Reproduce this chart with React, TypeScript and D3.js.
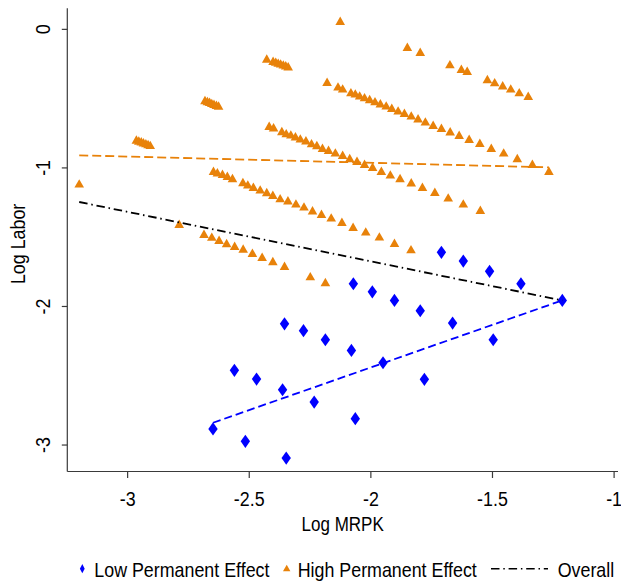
import React from "react";
import * as d3 from "d3";

// ---------- data ----------
const lowX = [
  -2.355, -2.277, -2.187, -2.561, -2.47, -2.363, -2.233, -2.649, -2.516, -2.348,
  -1.71, -1.62, -1.512, -1.383, -1.213, -2.072, -1.994, -1.903, -1.797, -1.664,
  -1.497, -2.08, -1.95, -1.78, -2.064,
];
const lowY = [
  -2.125, -2.175, -2.24, -2.461, -2.524, -2.601, -2.69, -2.884, -2.973, -3.094,
  -1.609, -1.672, -1.746, -1.836, -1.956, -1.836, -1.894, -1.956, -2.031, -2.12,
  -2.24, -2.317, -2.406, -2.526, -2.81,
];

const highX = [
  // singles
  -2.126, -3.199,
  // cluster 1
  -2.964, -2.954, -2.944, -2.935, -2.925, -2.916, -2.907,
  // cluster 2
  -2.682, -2.672, -2.663, -2.654, -2.645, -2.635, -2.626,
  // cluster 3
  -2.428, -2.402, -2.391, -2.381, -2.371, -2.36, -2.35, -2.34,
  // top row
  -1.85, -1.797, -1.675, -1.628, -1.604, -1.521, -1.491, -1.458, -1.425, -1.39, -1.353,
  // row A
  -2.18, -2.135, -2.116, -2.082, -2.064, -2.046, -2.026, -2.005, -1.983, -1.961,
  -1.937, -1.914, -1.888, -1.862, -1.834, -1.806, -1.776, -1.744, -1.71, -1.674,
  -1.637, -1.596, -1.552, -1.505, -1.454, -1.398, -1.336, -1.268,
  // row B
  -2.418, -2.4, -2.366, -2.348, -2.329, -2.31, -2.29, -2.267, -2.244, -2.222,
  -2.199, -2.174, -2.146, -2.116, -2.087, -2.057, -2.026, -1.993, -1.957, -1.92,
  -1.88, -1.834, -1.788, -1.737, -1.682, -1.62, -1.55,
  // row C
  -2.647, -2.631, -2.61, -2.59, -2.569, -2.526, -2.506, -2.483, -2.455, -2.428,
  -2.403, -2.373, -2.341, -2.308, -2.275, -2.24, -2.203, -2.163, -2.119, -2.073,
  -2.021, -1.965, -1.903, -1.835,
  // row D
  -2.788, -2.686, -2.654, -2.624, -2.593, -2.56, -2.525, -2.487, -2.447, -2.403,
  -2.355, -2.249, -2.187,
];
const highY = [
  0.055, -1.119,
  -0.802, -0.809, -0.815, -0.822, -0.828, -0.835, -0.841,
  -0.517, -0.524, -0.53, -0.538, -0.544, -0.551, -0.557,
  -0.218, -0.234, -0.24, -0.247, -0.253, -0.26, -0.266, -0.273,
  -0.133, -0.169, -0.258, -0.292, -0.306, -0.366, -0.388, -0.411, -0.433, -0.46, -0.486,
  -0.385, -0.419, -0.433, -0.46, -0.469, -0.484, -0.496, -0.51, -0.525, -0.541,
  -0.556, -0.573, -0.592, -0.609, -0.628, -0.649, -0.671, -0.696, -0.717, -0.743,
  -0.768, -0.797, -0.826, -0.862, -0.895, -0.936, -0.977, -1.028,
  -0.703, -0.714, -0.741, -0.756, -0.765, -0.779, -0.794, -0.808, -0.828, -0.842,
  -0.862, -0.876, -0.895, -0.912, -0.936, -0.955, -0.977, -0.999, -1.028, -1.054,
  -1.08, -1.111, -1.143, -1.179, -1.22, -1.263, -1.309,
  -1.028, -1.039, -1.049, -1.064, -1.08, -1.109, -1.126, -1.143, -1.162, -1.181,
  -1.201, -1.225, -1.241, -1.263, -1.285, -1.313, -1.338, -1.364, -1.396, -1.432,
  -1.465, -1.501, -1.547, -1.593,
  -1.41, -1.482, -1.503, -1.526, -1.549, -1.569, -1.589, -1.619, -1.648, -1.679,
  -1.713, -1.788, -1.831,
];

// fitted lines (endpoints)
const lowFitX = [-2.649, -1.213];
const lowFitY = [-2.839, -1.956];
const highFitX = [-3.199, -1.268];
const highFitY = [-0.909, -0.996];
const allFitX = [-3.199, -1.213];
const allFitY = [-1.246, -1.956];

const xTicks = [-3, -2.5, -2, -1.5, -1];
const xTickLabels = ["-3", "-2.5", "-2", "-1.5", "-1"];
const yTicks = [0, -1, -2, -3];
const yTickLabels = ["0", "-1", "-2", "-3"];
const legendLabels = ["Low Permanent Effect", "High Permanent Effect", "Overall"];

// ---------- style ----------
const W = 621;
const H = 586;
const BLUE = "#0000ff";
const ORANGE = "#e8820a";
const FONT = "'Liberation Sans', Arial, Helvetica, sans-serif";
const SX = 0.85;

const x = d3.scaleLinear().domain([-3.248, -0.984]).range([67.3, 618]);
const y = d3.scaleLinear().domain([-3.191, 0.152]).range([471.5, 8.3]);

const diamond = "M0,-6.6L4.7,0L0,6.6L-4.7,0Z";
const triangle = "M0,-5.2L4.8,3.2L-4.8,3.2Z";
const legDiamond = "M0,-4.6L2.4,0L0,4.6L-2.4,0Z";
const legTriangle = "M0,-3.9L3.7,2.5L-3.7,2.5Z";

const line = d3
  .line<[number, number]>()
  .x((d) => x(d[0]))
  .y((d) => y(d[1]));

const zip = (a: number[], b: number[]) => a.map((v, i) => [v, b[i]] as [number, number]);

function T({
  x: tx,
  y: ty,
  size,
  anchor = "start",
  rotate = 0,
  children,
}: {
  x: number;
  y: number;
  size: number;
  anchor?: string;
  rotate?: number;
  children: React.ReactNode;
}) {
  return (
    <text
      transform={`translate(${tx},${ty}) rotate(${rotate}) scale(${SX},1)`}
      fontSize={size}
      fontFamily={FONT}
      textAnchor={anchor}
      fill="#000"
    >
      {children}
    </text>
  );
}

export default function App() {
  const axisColor = "#3a3a3a";
  const x0 = x.range()[0];
  const x1 = x.range()[1];
  const yTop = y.range()[1];
  const yBot = y.range()[0];
  const plotCx = (x0 + x1) / 2;
  const plotCy = (yTop + yBot) / 2 + 4;
  const legY = 568.7;
  const legBase = 577.3;

  return (
    <svg
      width={W}
      height={H}
      viewBox={`0 0 ${W} ${H}`}
      style={{ position: "absolute", left: 0, top: 0, background: "#fff" }}
    >
      <rect x={0} y={0} width={W} height={H} fill="#fff" />

      {/* axes */}
      <line x1={x0} x2={x0} y1={yTop} y2={yBot} stroke={axisColor} strokeWidth={1.2} />
      <line x1={x0} x2={x1} y1={yBot} y2={yBot} stroke={axisColor} strokeWidth={1.2} />
      {yTicks.map((t, i) => (
        <g key={"yt" + i}>
          <line x1={x0 - 5.5} x2={x0} y1={y(t)} y2={y(t)} stroke={axisColor} strokeWidth={1.2} />
          <T x={49.5} y={y(t)} size={21} anchor="middle" rotate={-90}>
            {yTickLabels[i]}
          </T>
        </g>
      ))}
      {xTicks.map((t, i) => (
        <g key={"xt" + i}>
          <line x1={x(t)} x2={x(t)} y1={yBot} y2={yBot + 6.5} stroke={axisColor} strokeWidth={1.2} />
          <T x={x(t)} y={506} size={21} anchor="middle">
            {xTickLabels[i]}
          </T>
        </g>
      ))}
      <T x={plotCx} y={531} size={20} anchor="middle">
        Log MRPK
      </T>
      <T x={25} y={plotCy} size={21} anchor="middle" rotate={-90}>
        Log Labor
      </T>

      {/* points */}
      {lowX.map((v, i) => (
        <path key={"l" + i} d={diamond} transform={`translate(${x(v)},${y(lowY[i])})`} fill={BLUE} />
      ))}
      {highX.map((v, i) => (
        <path key={"h" + i} d={triangle} transform={`translate(${x(v)},${y(highY[i])})`} fill={ORANGE} />
      ))}

      {/* fit lines */}
      <path d={line(zip(lowFitX, lowFitY)) || ""} fill="none" stroke={BLUE} strokeWidth={1.8} strokeDasharray="8,4" />
      <path d={line(zip(highFitX, highFitY)) || ""} fill="none" stroke={ORANGE} strokeWidth={1.8} strokeDasharray="9,4" />
      <path
        d={line(zip(allFitX, allFitY)) || ""}
        fill="none"
        stroke="#000"
        strokeWidth={1.8}
        strokeDasharray="8.5,3.8,1.5,3.8"
      />

      {/* legend */}
      <path d={legDiamond} transform={`translate(82.3,${legY})`} fill={BLUE} />
      <T x={94.3} y={legBase} size={21}>
        {legendLabels[0]}
      </T>
      <path d={legTriangle} transform={`translate(286.7,${legY})`} fill={ORANGE} />
      <T x={297.7} y={legBase} size={21}>
        {legendLabels[1]}
      </T>
      <line
        x1={491}
        x2={548}
        y1={legY}
        y2={legY}
        stroke="#000"
        strokeWidth={1.6}
        strokeDasharray="8.5,3.8,1.5,3.8"
      />
      <T x={557.7} y={legBase} size={21}>
        {legendLabels[2]}
      </T>
    </svg>
  );
}
